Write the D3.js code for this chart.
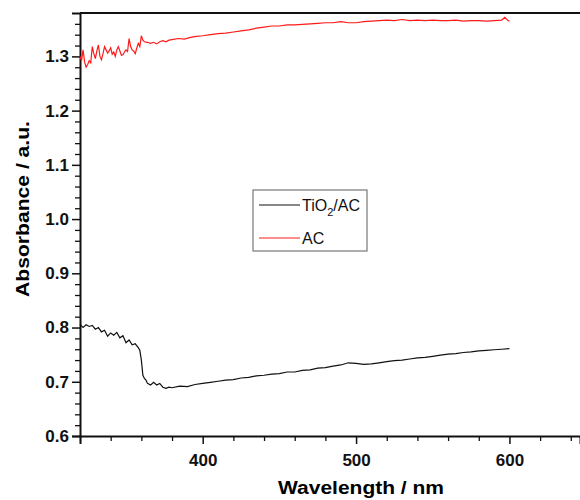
<!DOCTYPE html>
<html>
<head>
<meta charset="utf-8">
<script src="https://cdn.jsdelivr.net/npm/d3@7"></script>
<style>
  body { margin: 0; background: #fff; }
  svg { display: block; }
  .axis text { font-family: Arial, "Liberation Sans", sans-serif; font-weight: bold; font-size: 17px; fill: #111; }
  .axis path, .axis line { stroke: #111; }
</style>
</head>
<body>
<script>
// TiO2/AC absorbance (black)
var tioNm = [320, 322, 324, 326, 328, 330, 332, 334, 336, 338, 340, 342, 344, 346, 348, 350,
  352, 354, 356, 358, 359, 360, 361, 362, 363, 364, 366, 368, 370, 372, 374, 376, 378, 380,
  385, 390, 395, 400, 405, 410, 415, 420, 425, 430, 435, 440, 445, 450, 455, 460, 465, 470,
  475, 480, 485, 490, 495, 500, 505, 510, 515, 520, 525, 530, 535, 540, 545, 550, 555, 560,
  565, 570, 575, 580, 585, 590, 595, 600];
var tioAbs = [0.806, 0.800, 0.805, 0.802, 0.804, 0.797, 0.800, 0.792, 0.795, 0.784, 0.790, 0.786,
  0.791, 0.781, 0.785, 0.772, 0.777, 0.768, 0.770, 0.763, 0.758, 0.740, 0.712, 0.706, 0.703,
  0.697, 0.694, 0.699, 0.694, 0.697, 0.690, 0.688, 0.690, 0.689,
  0.692, 0.691, 0.695, 0.697, 0.699, 0.701, 0.703, 0.704, 0.707, 0.708, 0.711, 0.712, 0.714,
  0.715, 0.718, 0.718, 0.721, 0.722, 0.725, 0.726, 0.729, 0.731, 0.735, 0.734, 0.732, 0.733,
  0.735, 0.737, 0.739, 0.740, 0.742, 0.744, 0.745, 0.747, 0.749, 0.751, 0.752, 0.754, 0.755,
  0.757, 0.758, 0.759, 0.760, 0.761];

// AC absorbance (red)
var acNm = [320, 321, 322, 323, 324, 325, 326, 327, 328, 329, 330, 331, 332, 333, 334, 335, 336,
  337, 338, 339, 340, 341, 342, 343, 344, 345, 346, 347, 348, 349, 350, 351, 352, 353, 354, 355,
  356, 357, 358, 359, 360, 361, 362, 364, 366, 368, 370, 372, 374, 376, 378, 380, 384, 388, 392,
  396, 400, 405, 410, 415, 420, 425, 430, 435, 440, 445, 450, 455, 460, 465, 470, 475, 480, 485,
  490, 495, 500, 505, 510, 515, 520, 525, 530, 535, 540, 545, 550, 555, 560, 565, 570, 575, 580,
  585, 590, 595, 597, 599, 600];
var acAbs = [1.300, 1.292, 1.312, 1.290, 1.280, 1.285, 1.292, 1.288, 1.318, 1.305, 1.296, 1.310,
  1.321, 1.300, 1.294, 1.305, 1.318, 1.312, 1.306, 1.310, 1.316, 1.304, 1.308, 1.300, 1.312, 1.318,
  1.310, 1.302, 1.303, 1.308, 1.312, 1.309, 1.333, 1.318, 1.312, 1.310, 1.305, 1.315, 1.324, 1.318,
  1.338, 1.330, 1.327, 1.326, 1.324, 1.326, 1.323, 1.327, 1.329, 1.327, 1.330, 1.331, 1.333, 1.332,
  1.335, 1.337, 1.338, 1.340, 1.342, 1.343, 1.345, 1.347, 1.349, 1.352, 1.354, 1.356, 1.356, 1.358,
  1.358, 1.359, 1.360, 1.361, 1.362, 1.362, 1.364, 1.362, 1.362, 1.364, 1.365, 1.366, 1.367, 1.366,
  1.368, 1.366, 1.367, 1.366, 1.367, 1.366, 1.366, 1.367, 1.365, 1.366, 1.366, 1.365, 1.366, 1.367,
  1.372, 1.366, 1.365];

var xMajor = [400, 500, 600];
var yMajor = [0.6, 0.7, 0.8, 0.9, 1.0, 1.1, 1.2, 1.3];

function drawChart() {
  var w = 580, h = 500;
  var left = 80, right = 580, top = 13, bottom = 436;
  var font = "Arial, 'Liberation Sans', sans-serif";

  var svg = d3.select("body").append("svg")
    .attr("width", w)
    .attr("height", h);

  var x = d3.scaleLinear().domain([320, 646]).range([left, right]);
  var y = d3.scaleLinear().domain([0.6, 1.38]).range([bottom, top]);

  // minor ticks
  var xMinor = d3.range(320, 646, 20).filter(function(v) { return xMajor.indexOf(v) < 0; });
  var yMinor = d3.range(0.6, 1.38, 0.02).map(function(v) { return +v.toFixed(2); })
    .filter(function(v) { return Math.abs(v * 10 - Math.round(v * 10)) > 0.01; });

  svg.append("g").attr("class", "axis")
    .attr("transform", "translate(0," + bottom + ")")
    .call(d3.axisBottom(x).tickValues(xMinor).tickSize(5).tickFormat(""))
    .call(function(g) { g.select(".domain").remove(); g.selectAll("line").attr("stroke-width", 1.3); });
  svg.append("g").attr("class", "axis")
    .attr("transform", "translate(0," + bottom + ")")
    .call(d3.axisBottom(x).tickValues(xMajor).tickSize(8).tickPadding(10).tickFormat(d3.format("d")))
    .call(function(g) { g.select(".domain").attr("stroke-width", 2); g.selectAll("line").attr("stroke-width", 1.5); });

  svg.append("g").attr("class", "axis")
    .attr("transform", "translate(" + left + ",0)")
    .call(d3.axisLeft(y).tickValues(yMinor).tickSize(5).tickFormat(""))
    .call(function(g) { g.select(".domain").remove(); g.selectAll("line").attr("stroke-width", 1.3); });
  svg.append("g").attr("class", "axis")
    .attr("transform", "translate(" + left + ",0)")
    .call(d3.axisLeft(y).tickValues(yMajor).tickSize(8).tickPadding(3).tickFormat(d3.format(".1f")))
    .call(function(g) { g.select(".domain").attr("stroke-width", 2); g.selectAll("line").attr("stroke-width", 1.5); });

  // top spine
  svg.append("line")
    .attr("x1", left).attr("x2", right)
    .attr("y1", top).attr("y2", top)
    .attr("stroke", "#111").attr("stroke-width", 2);

  var line = d3.line()
    .x(function(d) { return x(d[0]); })
    .y(function(d) { return y(d[1]); });

  svg.append("path")
    .datum(tioNm.map(function(v, i) { return [v, tioAbs[i]]; }))
    .attr("d", line)
    .attr("fill", "none").attr("stroke", "#111").attr("stroke-width", 1.2);

  svg.append("path")
    .datum(acNm.map(function(v, i) { return [v, acAbs[i]]; }))
    .attr("d", line)
    .attr("fill", "none").attr("stroke", "#ff1a1a").attr("stroke-width", 1.2);

  // axis titles
  svg.append("text")
    .attr("x", 361).attr("y", 494)
    .attr("text-anchor", "middle")
    .attr("font-family", font)
    .attr("font-weight", "bold").attr("font-size", "18px")
    .attr("textLength", 166).attr("lengthAdjust", "spacingAndGlyphs")
    .text("Wavelength / nm");
  svg.append("text")
    .attr("transform", "translate(29,209) rotate(-90)")
    .attr("text-anchor", "middle")
    .attr("font-family", font)
    .attr("font-weight", "bold").attr("font-size", "18px")
    .attr("textLength", 176).attr("lengthAdjust", "spacingAndGlyphs")
    .text("Absorbance / a.u.");

  // legend
  var lg = svg.append("g").attr("font-family", font).attr("font-size", "16px");
  lg.append("rect")
    .attr("x", 253).attr("y", 190).attr("width", 114).attr("height", 61)
    .attr("fill", "#fff").attr("stroke", "#777").attr("stroke-width", 1.2);
  lg.append("line").attr("x1", 259).attr("x2", 300).attr("y1", 205).attr("y2", 205)
    .attr("stroke", "#111").attr("stroke-width", 1.2);
  lg.append("line").attr("x1", 259).attr("x2", 300).attr("y1", 238).attr("y2", 238)
    .attr("stroke", "#ff1a1a").attr("stroke-width", 1.2);
  var t1 = lg.append("text").attr("x", 302).attr("y", 211).attr("fill", "#111");
  t1.append("tspan").text("TiO");
  t1.append("tspan").attr("font-size", "11px").attr("dy", 5).text("2");
  t1.append("tspan").attr("dy", -5).text("/AC");
  lg.append("text").attr("x", 302).attr("y", 244).attr("fill", "#111").text("AC");
}

window.onload = function() {
  drawChart();
};
</script>
</body>
</html>
